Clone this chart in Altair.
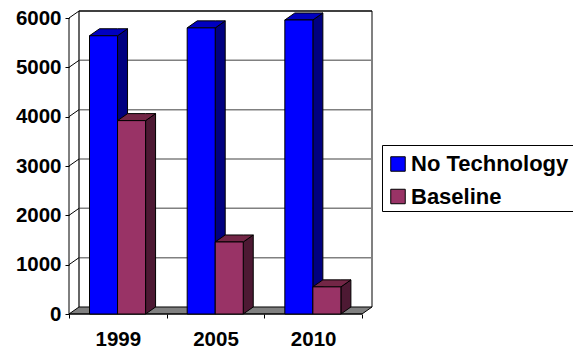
import altair as alt
import pandas as pd

# Series values per year
years = ["1999", "2005", "2010"]
no_technology = [5640, 5800, 5960]
baseline = [3920, 1460, 550]
y_ticks = [0, 1000, 2000, 3000, 4000, 5000, 6000]
series_names = ["No Technology", "Baseline"]

# Oblique depth of the box, in axis units
DX = 0.1024
DY = 142
BAR_START = 0.21
BAR_W = 0.287
N = len(years)

FONT = "Liberation Sans"
GRAY = "#808080"

x_scale = alt.Scale(domain=[0, N + DX], nice=False, zero=False)
y_scale = alt.Scale(domain=[0, 6000 + DY], nice=False, zero=False)
X = lambda f="x": alt.X(f"{f}:Q", scale=x_scale, title=None)
Y = lambda f="y": alt.Y(f"{f}:Q", scale=y_scale, title=None, stack=None)


def faces(values, slot):
    """Front, side and top faces of one series' columns."""
    front, side, top = [], [], []
    for i, v in enumerate(values):
        x0 = i + BAR_START + slot * BAR_W
        x1 = x0 + BAR_W
        front.append(dict(x=x0, x2=x1, y=0, y2=v, series=series_names[slot]))
        side += [
            dict(k=i, x=x1, y=v, y2=0),
            dict(k=i, x=x1 + DX, y=v + DY, y2=DY),
        ]
        top += [
            dict(k=i, x=x0, y=v, y2=v),
            dict(k=i, x=x0 + DX, y=v + DY, y2=v),
            dict(k=i, x=x1, y=v + DY, y2=v),
            dict(k=i, x=x1 + DX, y=v + DY, y2=v + DY),
        ]
    return pd.DataFrame(front), pd.DataFrame(side), pd.DataFrame(top)


def area(df, fill, width=1):
    return alt.Chart(df).mark_area(
        orient="vertical", fill=fill, stroke="black", strokeWidth=width, opacity=1
    ).encode(x=X(), y=Y(), y2="y2:Q", detail="k:N")


color = alt.Color(
    "series:N",
    scale=alt.Scale(domain=series_names, range=["#0000FF", "#993366"]),
    legend=alt.Legend(
        title=None,
        orient="none",
        legendX=318,
        legendY=142,
        padding=0,
        symbolType="square",
        symbolSize=210,
        symbolStrokeColor="black",
        symbolStrokeWidth=1,
        symbolOpacity=1,
        labelFont=FONT,
        labelFontWeight="bold",
        labelFontSize=22,
        labelColor="black",
        labelLimit=300,
        clipHeight=22,
        rowPadding=10.5,
        labelOffset=2,
    ),
)


def front_bars(df):
    return alt.Chart(df).mark_rect(stroke="black", strokeWidth=1, opacity=1).encode(
        x=alt.X("x:Q", scale=x_scale, title=None,
                axis=alt.Axis(
                    values=[v / 2 for v in range(0, 2 * N + 1)],
                    grid=False, domain=False,
                    tickColor="black", tickSize=4,
                    tickOpacity=alt.expr("datum.value % 1 === 0 ? 1 : 0"),
                    labelExpr="datum.value % 1 === 0 ? '' : "
                              f"{years}[floor(datum.value)]",
                    labelFont=FONT, labelFontWeight="bold", labelFontSize=20.5,
                    labelColor="black", labelPadding=11,
                    labelOverlap=False, labelFlush=False, labelBound=False,
                )),
        x2="x2:Q",
        y=alt.Y("y:Q", scale=y_scale, title=None,
                axis=alt.Axis(
                    values=y_ticks, grid=False, domain=False, format="d",
                    tickColor="black", tickSize=4,
                    labelFont=FONT, labelFontWeight="bold", labelFontSize=20.5,
                    labelColor="black", labelPadding=4,
                    labelOverlap=False, labelFlush=False, labelBound=False,
                )),
        y2="y2:Q",
        color=color,
    )


# Floor of the box
floor = area(pd.DataFrame([
    dict(k=0, x=0, y=0, y2=0),
    dict(k=0, x=DX, y=DY, y2=0),
    dict(k=0, x=N, y=DY, y2=0),
    dict(k=0, x=N + DX, y=DY, y2=DY),
]), GRAY)

# Gridlines on the back wall
grid = alt.Chart(pd.DataFrame(
    [dict(x=DX, x2=N + DX, y=v + DY) for v in y_ticks[1:-1]]
)).mark_rule(color=GRAY, strokeWidth=1.5).encode(x=X(), x2="x2:Q", y=Y())

# Short diagonals joining the front axis to the back wall
diagonals = alt.Chart(pd.DataFrame(
    [dict(k=v, o=o, x=o * DX, y=v + o * DY) for v in y_ticks[1:] for o in (0, 1)]
)).mark_line(color="black", strokeWidth=1).encode(
    x=X(), y=Y(), detail="k:N", order="o:Q"
)


def edge(points, stroke, width):
    return alt.Chart(pd.DataFrame(
        [dict(o=i, x=p[0], y=p[1]) for i, p in enumerate(points)]
    )).mark_line(color=stroke, strokeWidth=width).encode(x=X(), y=Y(), order="o:Q")


wall_right = edge([(N + DX, DY), (N + DX, 6000 + DY)], GRAY, 2)
wall_left = edge([(DX, DY), (DX, 6000 + DY)], "#333333", 1.5)
wall_top = edge([(DX, 6000 + DY), (N + DX, 6000 + DY)], "black", 1.5)
front_axis = edge([(0, 0), (0, 6000)], "black", 1)
base_axis = edge([(0, 0), (N, 0)], "black", 1)

# Frame around the legend; its right side runs past the edge of the page
legend_frame = alt.Chart(pd.DataFrame({"k": [0]})).mark_rect(
    fill="white", stroke="black", strokeWidth=1
).encode(
    x=alt.value(313.5), x2=alt.value(520), y=alt.value(134.5), y2=alt.value(200.5)
)

blue_front, blue_side, blue_top = faces(no_technology, 0)
red_front, red_side, red_top = faces(baseline, 1)

chart = alt.layer(
    wall_right,
    grid,
    wall_left,
    wall_top,
    floor,
    diagonals,
    front_axis,
    base_axis,
    area(blue_side, "#000080"),
    area(blue_top, "#0000C0"),
    front_bars(blue_front),
    area(red_side, "#4D1933"),
    area(red_top, "#732646"),
    front_bars(red_front),
    legend_frame,
).properties(
    width=303,
    height=303,
    background="white",
    padding={"left": 69, "top": 11, "right": 201, "bottom": 36},
    autosize=alt.AutoSizeParams(type="none"),
).configure_view(stroke=None)

chart.save("out.html", embed_options={"renderer": "svg", "actions": False})
